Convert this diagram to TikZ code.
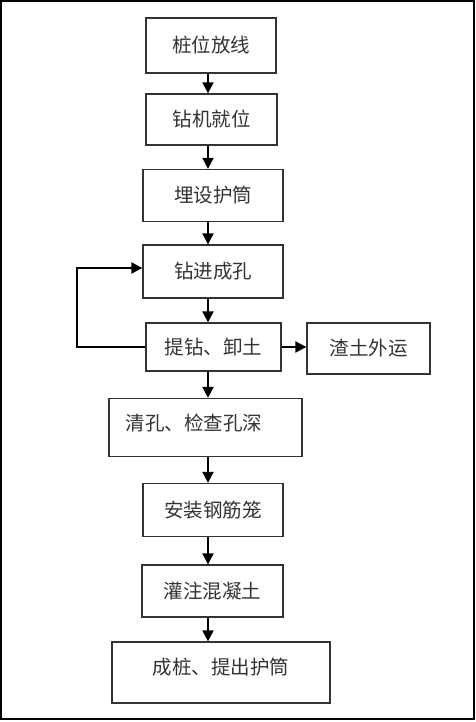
\documentclass[tikz,border=0pt]{standalone}
\usepackage{fontspec}
\newfontfamily\cjk{Noto Sans CJK SC}
\usetikzlibrary{arrows.meta}

\begin{document}
\begin{tikzpicture}[
        x=1pt, y=-1pt,
        every node/.style={font=\cjk\fontsize{19.5}{23}\selectfont, text=black!80},
        stepbox/.style={draw=black!80, line width=1.3pt, inner sep=0pt},
        flow/.style={draw=black, line width=2pt, -{Triangle[length=11pt, width=11pt]}}
    ]
    \useasboundingbox (0,0) rectangle (475,722);
    \draw[line width=2pt] (1,1) rectangle (473.7,719);
    % main column
    \node[stepbox, minimum width=130, minimum height=55] (zwfx) at (211,45.5) {桩位放线};
    \node[stepbox, minimum width=131, minimum height=51] (zjjw) at (211.5,119.5) {钻机就位};
    \node[stepbox, minimum width=140, minimum height=52] (mshd) at (213,195.5) {埋设护筒};
    \node[stepbox, minimum width=140, minimum height=53] (zjch) at (213,271.5) {钻进成孔};
    \node[stepbox, minimum width=135, minimum height=48] (tzxt) at (213.5,347) {提钻、卸土};
    \node[stepbox, minimum width=123, minimum height=51] (ztwy) at (368.5,348.5) {渣土外运};
    \node[stepbox, minimum width=193, minimum height=58] (qkjc) at (205.5,427.5) {};
    \node[anchor=west] (qkjct) at (122,423) {清孔、检查孔深};
    \node[stepbox, minimum width=140, minimum height=53] (azgj) at (213,510) {安装钢筋笼};
    \node[stepbox, minimum width=141, minimum height=52] (gzhnt) at (212.5,591) {灌注混凝土};
    \node[stepbox, minimum width=218, minimum height=61] (cztc) at (221,672.5) {};
    \node[anchor=west] (cztct) at (149,667) {成桩、提出护筒};
    % connectors
    \coordinate (axis) at (208,0);
    \coordinate (back) at (77,0);
    \draw[flow] (zwfx.south -| axis) -- (zjjw.north -| axis);
    \draw[flow] (zjjw.south -| axis) -- (mshd.north -| axis);
    \draw[flow] (mshd.south -| axis) -- (zjch.north -| axis);
    \draw[flow] (zjch.south -| axis) -- (tzxt.north -| axis);
    \draw[flow] (tzxt.south -| axis) -- (qkjc.north -| axis);
    \draw[flow] (qkjc.south -| axis) -- (azgj.north -| axis);
    \draw[flow] (azgj.south -| axis) -- (gzhnt.north -| axis);
    \draw[flow] (gzhnt.south -| axis) -- (cztc.north -| axis);
    \draw[flow] (tzxt.east) -- (tzxt.east -| ztwy.west);
    \draw[flow] (tzxt.west) -- (tzxt.west -| back) |- ([yshift=3.5pt]zjch.west);
\end{tikzpicture}
\end{document}
